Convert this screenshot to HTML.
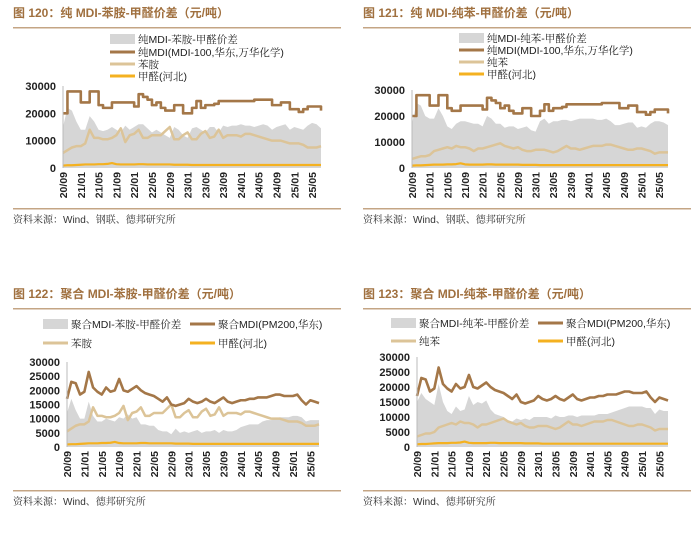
<!DOCTYPE html>
<html><head><meta charset="utf-8"><style>
html,body{margin:0;padding:0;background:#fff;}
svg{display:block;font-family:"Liberation Sans","Noto Serif CJK SC",sans-serif;}
</style></head><body>
<svg id="c" width="700" height="551" viewBox="0 0 700 551" xmlns="http://www.w3.org/2000/svg"></svg>
<script>
const xLabels=["20/09","21/01","21/05","21/09","22/01","22/05","22/09","23/01","23/05","23/09","24/01","24/05","24/09","25/01","25/05"];
const formaldehyde=[900,1000,1000,1100,1200,1300,1300,1300,1400,1400,1500,1800,1400,1300,1300,1300,1300,1400,1400,1300,1300,1300,1300,1300,1300,1200,1200,1200,1200,1100,1100,1100,1100,1100,1100,1100,1100,1100,1100,1100,1100,1100,1100,1100,1100,1100,1100,1100,1100,1100,1100,1100,1100,1100,1100,1100,1100,1100,1100];
const pureMDI=[20000,28000,28000,28000,24000,24000,28000,28000,23000,22000,22000,24000,24000,24000,24000,24000,22500,27000,26000,25000,23000,24000,22000,21000,21000,23000,23000,20000,20000,22000,24500,22000,23000,23000,23500,24500,24500,24500,24500,24500,24500,24500,24500,25000,25000,25000,25000,23000,23000,24000,24000,21500,21500,20500,21500,22500,22500,22500,21000];
const polyMDI=[17000,23000,22500,18500,19500,26500,21000,19500,18500,21000,19500,20000,24000,20000,19500,20500,21500,20000,19000,18500,18000,17000,16000,17500,15000,14500,15000,15500,17000,16000,15500,16000,17000,16000,15500,16500,17500,16000,15500,16000,16500,16500,17000,17000,17500,17500,17500,18000,18500,18500,18000,18000,18000,18500,16500,15000,16500,16000,15500];
const aniline=[5500,6500,7500,8000,8000,9000,14000,11000,11000,10500,10500,11000,12000,14500,9500,12000,12500,14000,11000,11000,12000,12000,12000,13500,15000,10500,10500,12000,13000,10500,10500,12500,13500,11000,11500,14000,11000,12000,12000,12000,11500,12500,12500,12000,11500,11000,10500,10000,10000,10000,9500,9000,9000,9000,8500,7500,7500,7500,8000];
const benzene=[3500,4000,4500,4500,5000,6500,7000,7500,8000,7500,8500,8000,8000,7500,6500,7500,7500,8000,8500,9000,9500,8500,8000,7500,8000,7000,6500,6500,7000,7000,7000,6500,6000,6500,7500,8500,7500,7500,7000,7500,8000,8500,8500,8500,9000,9000,8500,8000,7500,7000,7000,7500,7500,7000,6500,5500,6000,6000,6000];
const spread1=[15000,22000,21000,17000,14000,14000,19000,17000,14000,13500,14000,15000,14000,13000,15500,14000,15000,16000,16000,14500,13000,14000,13000,12000,11000,15000,14000,12000,11000,14500,15000,14000,13000,15000,15000,13000,15500,15000,15500,15500,16000,15500,15500,15000,15500,16000,15500,14000,15000,15500,16000,14000,15000,14500,14000,15500,16500,16000,14500];
const spread2=[17000,25000,24000,20000,19000,19000,23000,20000,16000,15000,17000,18000,18000,17500,17000,17000,16000,20000,19000,17000,17000,15500,16000,16000,15000,15500,16000,14500,14000,18000,19000,17000,18000,18000,18500,18500,18000,18500,19000,19000,19000,19000,18500,18500,19000,18000,16500,16500,17000,17500,17500,15500,16000,15500,17000,18000,18000,17500,16500];
const spread3=[12000,17000,13000,10000,10000,16000,11000,9000,9000,10000,9500,9000,10500,10000,11500,10000,10500,8000,8000,7500,7500,6000,5500,5500,4500,6500,5000,5500,5000,5500,6000,5000,5500,5500,6000,5000,6000,5500,5500,6000,7000,7500,8000,8000,8000,9000,9500,9500,10000,10500,10500,10500,11000,11000,10500,9000,9500,9500,9500];
const spread4=[15000,18000,16000,15000,14000,21000,15000,12000,11000,13500,12000,12500,17000,14000,15000,14500,15500,12500,11000,10500,10000,9000,8500,9500,9000,9500,9000,10000,10000,10000,10000,9500,10500,10000,10000,10500,10500,10000,10500,10500,10500,10500,11000,11000,11000,11500,12000,12500,13000,13500,13500,13500,13500,13000,13000,11000,12500,12000,12000];
const ticks1=[0,10000,20000,30000];
const ticks2=[0,5000,10000,15000,20000,25000,30000];

const NS="http://www.w3.org/2000/svg";
const svg=document.getElementById('c');
function mk(tag,attrs,parent){const e=document.createElementNS(NS,tag);for(const k in attrs)e.setAttribute(k,attrs[k]);(parent||svg).appendChild(e);return e;}
const BROWN="#a47748",TAN="#dcc498",ORANGE="#f4b120",GRAY="#d6d6d6",TCOL="#a0703f",RULE="#c4a584";

function panel(p){
  const g=mk('g',{});
  
  
  const t=mk('text',{x:p.ox+13,y:p.ty,'font-size':12,'font-weight':'bold',fill:TCOL,'font-family':'"Liberation Sans","Noto Sans CJK SC",sans-serif'},g);
  t.textContent=p.title;
  
  
  const r1=mk('rect',{x:p.ox+13,y:p.ty+10,width:328,height:1.5,fill:RULE},g);
  
  
  const r2=mk('rect',{x:p.ox+13,y:p.by,width:328,height:1.5,fill:RULE},g);
  
  
  const s=mk('text',{x:p.ox+13,y:p.by+15,'font-size':10,fill:'#333','font-family':'"Liberation Sans","Noto Serif CJK SC",sans-serif'},g);
  s.textContent=p.source;
  
  
  // legend
  p.legend.forEach((L,i)=>{
    const lg=mk('g',{},g);
    
    
    if(L.area) mk('rect',{x:L.x,y:L.y-5,width:25,height:10,fill:GRAY},lg);
    else mk('line',{x1:L.x,x2:L.x+25,y1:L.y,y2:L.y,stroke:L.c,'stroke-width':3},lg);
    const lt=mk('text',{x:L.x+28,y:L.y+4,'font-size':10.5,fill:'#222','font-family':'"Liberation Sans","Noto Serif CJK SC",sans-serif'},lg);
    lt.textContent=L.t;
  });
  const ymax=30000;
  const X=i=>p.x0+i*(p.x1-p.x0)/58;
  const Y=v=>p.y0-v/ymax*(p.y0-p.yt);
  // ticks
  p.ticks.forEach(v=>{
    const tt=mk('text',{x:p.x0-7,y:Y(v)+4,'font-size':11,'text-anchor':'end',fill:'#222','font-weight':'bold'},g);
    tt.textContent=v;
    
    
  });
  // area
  let d='M'+X(0)+','+Y(0);
  p.spread.forEach((v,i)=>{d+=' L'+X(i)+','+Y(v);});
  d+=' L'+X(p.spread.length-1)+','+Y(0)+' Z';
  const a=mk('path',{d:d,fill:GRAY},g);
  
  
  function line(arr,col,w,step,nm){
    let dd='';
    arr.forEach((v,i)=>{
      if(i===0) dd='M'+X(0)+','+Y(v);
      else if(step) dd+=' L'+X(i)+','+Y(arr[i-1])+' L'+X(i)+','+Y(v);
      else dd+=' L'+X(i)+','+Y(v);
    });
    const l=mk('path',{d:dd,fill:'none',stroke:col,'stroke-width':w,'stroke-linejoin':'round'},g);
    
    
  }
  line(p.feed,TAN,2.5,false,'feedstock-line');
  line(formaldehyde,ORANGE,2.2,false,'formaldehyde-line');
  line(p.mdi,BROWN,2.6,p.step,'mdi-line');
  const ax=mk('line',{x1:p.x0,x2:p.x0,y1:p.yt,y2:p.y0,stroke:'#bbb','stroke-width':1},g);
  
  
  xLabels.forEach((lb,k)=>{
    const xx=X(k*4)+4;
    const xt=mk('text',{x:0,y:0,'font-size':10.5,'font-weight':'bold','text-anchor':'end',fill:'#222',transform:'translate('+xx+','+(p.y0+4)+') rotate(-90)'},g);
    xt.textContent=lb;
    
    
  });
}
panel({name:'panel-120',ox:0,ty:17,by:208,title:'图 120：纯 MDI-苯胺-甲醛价差（元/吨）',source:'资料来源：Wind、钢联、德邦研究所',
  x0:63,x1:321,yt:86,y0:168,ticks:ticks1,spread:spread1,mdi:pureMDI,feed:aniline,step:true,
  legend:[{area:1,x:110,y:39,t:'纯MDI-苯胺-甲醛价差'},{x:110,y:52,c:BROWN,t:'纯MDI(MDI-100,华东,万华化学)'},{x:110,y:64,c:TAN,t:'苯胺'},{x:110,y:76,c:ORANGE,t:'甲醛(河北)'}]});
panel({name:'panel-121',ox:350,ty:17,by:208,title:'图 121：纯 MDI-纯苯-甲醛价差（元/吨）',source:'资料来源：Wind、钢联、德邦研究所',
  x0:412,x1:668,yt:90,y0:168,ticks:ticks1,spread:spread2,mdi:pureMDI,feed:benzene,step:true,
  legend:[{area:1,x:459,y:38,t:'纯MDI-纯苯-甲醛价差'},{x:459,y:50,c:BROWN,t:'纯MDI(MDI-100,华东,万华化学)'},{x:459,y:62,c:TAN,t:'纯苯'},{x:459,y:74,c:ORANGE,t:'甲醛(河北)'}]});
panel({name:'panel-122',ox:0,ty:298,by:490,title:'图 122：聚合 MDI-苯胺-甲醛价差（元/吨）',source:'资料来源：Wind、德邦研究所',
  x0:67,x1:319,yt:362,y0:447,ticks:ticks2,spread:spread3,mdi:polyMDI,feed:aniline,step:false,
  legend:[{area:1,x:43,y:324,t:'聚合MDI-苯胺-甲醛价差'},{x:190,y:324,c:BROWN,t:'聚合MDI(PM200,华东)'},{x:43,y:343,c:TAN,t:'苯胺'},{x:190,y:343,c:ORANGE,t:'甲醛(河北)'}]});
panel({name:'panel-123',ox:350,ty:298,by:490,title:'图 123：聚合 MDI-纯苯-甲醛价差（元/吨）',source:'资料来源：Wind、德邦研究所',
  x0:417,x1:668,yt:357,y0:447,ticks:ticks2,spread:spread4,mdi:polyMDI,feed:benzene,step:false,
  legend:[{area:1,x:391,y:323,t:'聚合MDI-纯苯-甲醛价差'},{x:538,y:323,c:BROWN,t:'聚合MDI(PM200,华东)'},{x:391,y:341,c:TAN,t:'纯苯'},{x:538,y:341,c:ORANGE,t:'甲醛(河北)'}]});
</script>
</body></html>
